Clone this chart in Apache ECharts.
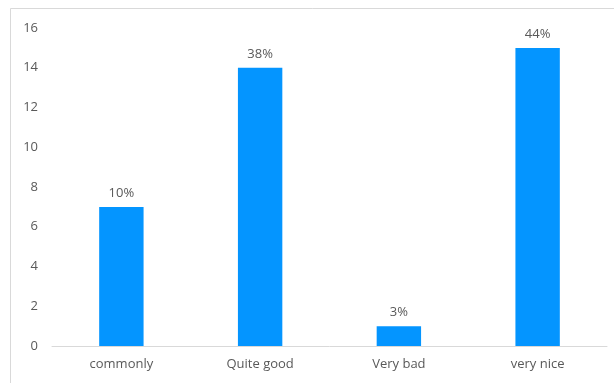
<!DOCTYPE html>
<html>
<head>
<meta charset="utf-8">
<script src="https://cdn.jsdelivr.net/npm/echarts@6/dist/echarts.min.js"></script>
<style>
  html, body { margin: 0; padding: 0; background: #fff; }
  #chart { width: 614px; height: 383px; }
</style>
</head>
<body>
<div id="chart"></div>
<script>
// Survey answers, counts and the share printed above each bar
const categories = ['commonly', 'Quite good', 'Very bad', 'very nice'];
const counts = [7, 14, 1, 15];
const shareLabels = ['10%', '38%', '3%', '44%'];
const yTicks = [0, 2, 4, 6, 8, 10, 12, 14, 16];

const textColor = '#595959';
const fontFamily = '"Open Sans", "Noto Sans", sans-serif';

const chart = echarts.init(document.getElementById('chart'));
chart.setOption({
  animation: false,
  backgroundColor: '#ffffff',
  graphic: [{
    type: 'rect',
    shape: { x: 10.5, y: 8.5, width: 700, height: 500 },
    style: { fill: 'none', stroke: '#d9d9d9', lineWidth: 1 },
    silent: true
  }],
  grid: { left: 52, right: 7, top: 28, bottom: 37, containLabel: false },
  xAxis: {
    type: 'category',
    data: categories,
    axisLine: { lineStyle: { color: '#d9d9d9', width: 1 } },
    axisTick: { show: false },
    axisLabel: { color: textColor, fontSize: 13, fontFamily: fontFamily, margin: 12 }
  },
  yAxis: {
    type: 'value',
    min: yTicks[0],
    max: yTicks[yTicks.length - 1],
    interval: 2,
    axisLine: { show: false },
    axisTick: { show: false },
    splitLine: { show: false },
    axisLabel: { color: textColor, fontSize: 13, fontFamily: fontFamily, margin: 14 }
  },
  series: [{
    type: 'bar',
    data: counts,
    barWidth: '32%',
    itemStyle: { color: '#0495ff' },
    label: {
      show: true,
      position: 'top',
      distance: 7,
      color: textColor,
      fontSize: 13,
      fontFamily: fontFamily,
      formatter: p => shareLabels[p.dataIndex]
    }
  }]
});
</script>
</body>
</html>
